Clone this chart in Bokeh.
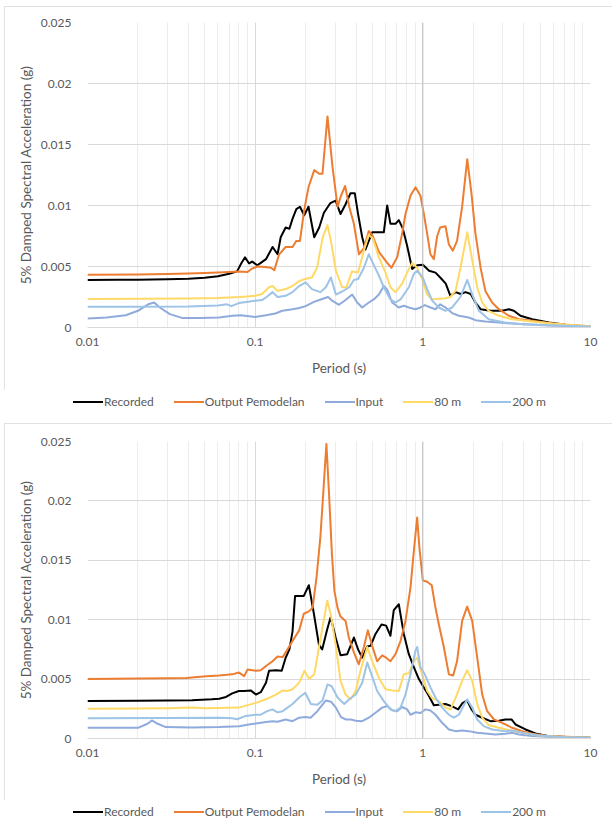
from bokeh.plotting import figure
from bokeh.models import Range1d, FixedTicker, CustomJSTickFormatter, Span, Div
from bokeh.layouts import column
from bokeh.embed import file_html
from bokeh.resources import INLINE

# ---------------------------------------------------------------------------
# 5% damped response spectra: period (s) vs spectral acceleration (g)
# ---------------------------------------------------------------------------
SERIES_NAMES = ["Recorded", "Output Pemodelan", "Input", "80 m", "200 m"]
SERIES_COLORS = ["#000000", "#ED7D31", "#8FAADC", "#FFD966", "#9DC3E6"]

X_TICKS = [0.01, 0.1, 1, 10]
X_TICK_LABELS = ["0.01", "0.1", "1", "10"]
Y_TICKS = [0, 0.005, 0.01, 0.015, 0.02, 0.025]
Y_TICK_LABELS = ["0", "0.005", "0.01", "0.015", "0.02", "0.025"]

# ---- upper chart ----
top_recorded_period = [0.010, 0.015, 0.020, 0.030, 0.040, 0.050, 0.060, 0.070, 0.078, 0.083,
                       0.087, 0.092, 0.096, 0.103, 0.108, 0.116, 0.127, 0.136, 0.142, 0.152,
                       0.160, 0.167, 0.176, 0.185, 0.196, 0.208, 0.225, 0.241, 0.257, 0.281,
                       0.302, 0.323, 0.346, 0.370, 0.393, 0.411, 0.435, 0.455, 0.476, 0.499,
                       0.559, 0.585, 0.613, 0.641, 0.687, 0.719, 0.760, 0.806, 0.864, 0.925,
                       1.00, 1.09, 1.19, 1.27, 1.37, 1.46, 1.57, 1.68, 1.80, 1.93,
                       2.06, 2.21, 2.53, 2.97, 3.26, 3.49, 3.82, 4.49, 5.65, 7.10,
                       8.92, 10.0]
top_recorded_sa = [0.00390, 0.00391, 0.00392, 0.00395, 0.00400, 0.00408, 0.00420, 0.00440, 0.00460, 0.00530,
                   0.00575, 0.00525, 0.00540, 0.00510, 0.00530, 0.00560, 0.00660, 0.00600, 0.00740, 0.00820,
                   0.00810, 0.00890, 0.00970, 0.00990, 0.00920, 0.00990, 0.00740, 0.00820, 0.00940, 0.01020,
                   0.01040, 0.00930, 0.01010, 0.01100, 0.01100, 0.00930, 0.00740, 0.00640, 0.00710, 0.00780,
                   0.00780, 0.00780, 0.01000, 0.00850, 0.00850, 0.00880, 0.00810, 0.00670, 0.00480, 0.00510,
                   0.00515, 0.00465, 0.00450, 0.00410, 0.00360, 0.00260, 0.00290, 0.00275, 0.00290, 0.00275,
                   0.00205, 0.00150, 0.00137, 0.00137, 0.00150, 0.00137, 0.00096, 0.00068, 0.00041, 0.00022,
                   0.00011, 0.00008]

top_output_period = [0.010, 0.020, 0.030, 0.040, 0.050, 0.060, 0.070, 0.080, 0.090, 0.095,
                     0.103, 0.115, 0.124, 0.130, 0.139, 0.152, 0.167, 0.176, 0.185, 0.196,
                     0.208, 0.225, 0.241, 0.252, 0.270, 0.289, 0.310, 0.325, 0.344, 0.364,
                     0.388, 0.416, 0.445, 0.476, 0.499, 0.547, 0.613, 0.650, 0.703, 0.753,
                     0.788, 0.844, 0.904, 0.968, 1.014, 1.061, 1.11, 1.163, 1.218, 1.27,
                     1.365, 1.43, 1.51, 1.60, 1.716, 1.84, 1.95, 2.06, 2.21, 2.36,
                     2.59, 2.84, 3.26, 3.74, 4.49, 5.65, 7.10, 10.0]
top_output_sa = [0.00433, 0.00435, 0.00438, 0.00442, 0.00446, 0.00450, 0.00455, 0.00460, 0.00455, 0.00480,
                 0.00500, 0.00495, 0.00490, 0.00470, 0.00600, 0.00660, 0.00660, 0.00710, 0.00710, 0.00960,
                 0.01150, 0.01290, 0.01260, 0.01260, 0.01730, 0.01320, 0.00990, 0.01080, 0.01160, 0.00990,
                 0.00850, 0.00600, 0.00650, 0.00790, 0.00760, 0.00620, 0.00530, 0.00490, 0.00575, 0.00770,
                 0.00930, 0.01080, 0.01150, 0.01080, 0.00930, 0.00770, 0.00600, 0.00560, 0.00750, 0.00820,
                 0.00830, 0.00680, 0.00630, 0.00710, 0.00990, 0.01380, 0.01100, 0.00770, 0.00490, 0.00300,
                 0.00205, 0.00150, 0.00096, 0.00068, 0.00055, 0.00036, 0.00022, 0.00011]

top_input_period = [0.010, 0.013, 0.0169, 0.020, 0.023, 0.025, 0.027, 0.031, 0.037, 0.047,
                    0.061, 0.073, 0.082, 0.092, 0.100, 0.116, 0.132, 0.145, 0.167, 0.183,
                    0.200, 0.224, 0.246, 0.272, 0.288, 0.316, 0.346, 0.379, 0.406, 0.435,
                    0.476, 0.510, 0.547, 0.585, 0.613, 0.656, 0.719, 0.770, 0.825, 0.904,
                    0.968, 1.028, 1.11, 1.19, 1.27, 1.365, 1.496, 1.64, 1.88, 2.06,
                    2.36, 2.84, 3.57, 5.65, 10.0]
top_input_sa = [0.00074, 0.00082, 0.00100, 0.00137, 0.00190, 0.00205, 0.00164, 0.00110, 0.00077, 0.00077,
                0.00082, 0.00096, 0.00100, 0.00093, 0.00087, 0.00100, 0.00115, 0.00137, 0.00150, 0.00160,
                0.00175, 0.00210, 0.00230, 0.00250, 0.00220, 0.00186, 0.00225, 0.00270, 0.00205, 0.00164,
                0.00205, 0.00230, 0.00270, 0.00340, 0.00310, 0.00205, 0.00164, 0.00178, 0.00164, 0.00150,
                0.00164, 0.00184, 0.00164, 0.00150, 0.00190, 0.00164, 0.00118, 0.00096, 0.00082, 0.00060,
                0.00050, 0.00040, 0.00030, 0.00016, 0.00008]

top_80m_period = [0.010, 0.020, 0.040, 0.060, 0.080, 0.090, 0.100, 0.110, 0.121, 0.127,
                  0.136, 0.152, 0.167, 0.183, 0.200, 0.218, 0.234, 0.253, 0.270, 0.283,
                  0.303, 0.330, 0.350, 0.378, 0.411, 0.445, 0.476, 0.503, 0.547, 0.599,
                  0.641, 0.687, 0.753, 0.806, 0.864, 0.925, 1.00, 1.061, 1.137, 1.246,
                  1.365, 1.46, 1.566, 1.677, 1.84, 1.97, 2.11, 2.26, 2.47, 2.84,
                  3.41, 4.49, 5.90, 10.0]
top_80m_sa = [0.00233, 0.00235, 0.00238, 0.00242, 0.00250, 0.00255, 0.00260, 0.00275, 0.00330, 0.00340,
              0.00300, 0.00315, 0.00340, 0.00380, 0.00400, 0.00410, 0.00490, 0.00740, 0.00840, 0.00710,
              0.00465, 0.00330, 0.00330, 0.00460, 0.00450, 0.00630, 0.00760, 0.00730, 0.00575, 0.00450,
              0.00330, 0.00290, 0.00360, 0.00450, 0.00530, 0.00490, 0.00380, 0.00270, 0.00230, 0.00235,
              0.00240, 0.00250, 0.00300, 0.00490, 0.00780, 0.00550, 0.00330, 0.00205, 0.00137, 0.00096,
              0.00068, 0.00050, 0.00033, 0.00011]

top_200m_period = [0.010, 0.020, 0.040, 0.060, 0.068, 0.072, 0.080, 0.100, 0.110, 0.117,
                   0.127, 0.136, 0.152, 0.167, 0.183, 0.200, 0.218, 0.245, 0.264, 0.283,
                   0.303, 0.330, 0.364, 0.388, 0.411, 0.445, 0.476, 0.503, 0.547, 0.585,
                   0.641, 0.687, 0.736, 0.825, 0.884, 0.925, 1.00, 1.061, 1.137, 1.246,
                   1.365, 1.496, 1.677, 1.84, 1.97, 2.16, 2.47, 3.08, 3.94, 5.90,
                   10.0]
top_200m_sa = [0.00170, 0.00171, 0.00173, 0.00180, 0.00190, 0.00175, 0.00200, 0.00220, 0.00225, 0.00250,
               0.00290, 0.00250, 0.00260, 0.00290, 0.00340, 0.00370, 0.00315, 0.00290, 0.00330, 0.00410,
               0.00270, 0.00295, 0.00330, 0.00390, 0.00397, 0.00490, 0.00600, 0.00530, 0.00425, 0.00330,
               0.00230, 0.00205, 0.00230, 0.00330, 0.00440, 0.00465, 0.00410, 0.00315, 0.00220, 0.00164,
               0.00137, 0.00164, 0.00250, 0.00390, 0.00270, 0.00137, 0.00068, 0.00041, 0.00027, 0.00019,
               0.00008]

# ---- lower chart ----
bot_recorded_period = [0.010, 0.020, 0.030, 0.042, 0.055, 0.061, 0.067, 0.073, 0.080, 0.086,
                       0.094, 0.101, 0.108, 0.116, 0.121, 0.133, 0.144, 0.152, 0.160, 0.167,
                       0.173, 0.182, 0.195, 0.209, 0.224, 0.240, 0.251, 0.269, 0.282, 0.302,
                       0.323, 0.354, 0.388, 0.411, 0.435, 0.466, 0.488, 0.522, 0.567, 0.604,
                       0.641, 0.671, 0.719, 0.770, 0.825, 0.884, 0.947, 1.014, 1.086, 1.163,
                       1.246, 1.365, 1.496, 1.624, 1.716, 1.838, 1.951, 2.06, 2.26, 2.53,
                       2.84, 3.11, 3.38, 3.57, 4.10, 4.70, 5.65, 7.10, 10.0]
bot_recorded_sa = [0.00315, 0.00317, 0.00320, 0.00322, 0.00330, 0.00335, 0.00350, 0.00380, 0.00400, 0.00400,
                   0.00405, 0.00370, 0.00390, 0.00470, 0.00570, 0.00575, 0.00570, 0.00680, 0.00750, 0.00900,
                   0.01200, 0.01200, 0.01200, 0.01290, 0.01050, 0.00790, 0.00750, 0.00920, 0.01020, 0.00850,
                   0.00700, 0.00710, 0.00850, 0.00750, 0.00680, 0.00775, 0.00780, 0.00880, 0.00960, 0.00950,
                   0.00865, 0.01080, 0.01130, 0.00880, 0.00710, 0.00600, 0.00500, 0.00430, 0.00360, 0.00280,
                   0.00285, 0.00290, 0.00270, 0.00245, 0.00295, 0.00320, 0.00245, 0.00200, 0.00175, 0.00146,
                   0.00150, 0.00160, 0.00160, 0.00118, 0.00076, 0.00042, 0.00020, 0.00012, 0.00006]

bot_output_period = [0.010, 0.020, 0.030, 0.039, 0.051, 0.061, 0.073, 0.080, 0.086, 0.090,
                     0.101, 0.108, 0.116, 0.127, 0.136, 0.146, 0.156, 0.167, 0.183, 0.195,
                     0.209, 0.220, 0.232, 0.245, 0.257, 0.266, 0.276, 0.287, 0.297, 0.310,
                     0.322, 0.346, 0.362, 0.388, 0.415, 0.445, 0.470, 0.499, 0.534, 0.572,
                     0.604, 0.641, 0.687, 0.736, 0.788, 0.844, 0.884, 0.925, 0.955, 1.00,
                     1.061, 1.13, 1.19, 1.246, 1.334, 1.43, 1.517, 1.60, 1.716, 1.838,
                     1.97, 2.11, 2.26, 2.42, 2.66, 2.97, 3.41, 3.91, 4.49, 5.65,
                     10.0]
bot_output_sa = [0.00500, 0.00505, 0.00508, 0.00510, 0.00525, 0.00530, 0.00540, 0.00555, 0.00525, 0.00580,
                 0.00570, 0.00575, 0.00610, 0.00650, 0.00690, 0.00685, 0.00750, 0.00820, 0.00910, 0.01050,
                 0.01070, 0.01100, 0.01350, 0.01700, 0.02150, 0.02480, 0.02050, 0.01550, 0.01240, 0.01100,
                 0.01030, 0.00990, 0.00850, 0.00725, 0.00625, 0.00770, 0.00910, 0.00780, 0.00650, 0.00700,
                 0.00680, 0.00650, 0.00710, 0.00820, 0.00990, 0.01270, 0.01580, 0.01860, 0.01600, 0.01330,
                 0.01320, 0.01290, 0.01100, 0.00960, 0.00770, 0.00540, 0.00530, 0.00650, 0.00990, 0.01110,
                 0.00990, 0.00680, 0.00370, 0.00230, 0.00160, 0.00132, 0.00090, 0.00062, 0.00040, 0.00020,
                 0.00006]

bot_input_period = [0.010, 0.020, 0.0228, 0.0242, 0.0262, 0.0293, 0.042, 0.061, 0.080, 0.092,
                    0.101, 0.116, 0.127, 0.136, 0.152, 0.167, 0.183, 0.200, 0.214, 0.235,
                    0.264, 0.283, 0.303, 0.325, 0.348, 0.372, 0.398, 0.435, 0.476, 0.522,
                    0.572, 0.613, 0.656, 0.703, 0.753, 0.806, 0.844, 0.904, 0.968, 1.037,
                    1.11, 1.19, 1.304, 1.43, 1.566, 1.716, 1.88, 2.11, 2.36, 2.71,
                    3.11, 3.41, 3.74, 4.49, 6.45, 10.0]
bot_input_sa = [0.00090, 0.00090, 0.00124, 0.00152, 0.00124, 0.00096, 0.00093, 0.00096, 0.00104, 0.00118,
                0.00127, 0.00138, 0.00146, 0.00141, 0.00160, 0.00146, 0.00175, 0.00180, 0.00175, 0.00230,
                0.00320, 0.00310, 0.00260, 0.00180, 0.00160, 0.00160, 0.00150, 0.00146, 0.00175, 0.00217,
                0.00260, 0.00273, 0.00237, 0.00230, 0.00265, 0.00245, 0.00200, 0.00220, 0.00215, 0.00245,
                0.00235, 0.00200, 0.00132, 0.00076, 0.00062, 0.00068, 0.00062, 0.00048, 0.00042, 0.00034,
                0.00040, 0.00048, 0.00034, 0.00020, 0.00011, 0.00006]

bot_80m_period = [0.010, 0.020, 0.030, 0.042, 0.051, 0.080, 0.101, 0.116, 0.133, 0.146,
                  0.156, 0.167, 0.183, 0.197, 0.210, 0.225, 0.235, 0.251, 0.269, 0.282,
                  0.302, 0.323, 0.346, 0.371, 0.397, 0.425, 0.466, 0.499, 0.547, 0.599,
                  0.656, 0.719, 0.770, 0.825, 0.884, 0.925, 0.990, 1.061, 1.137, 1.246,
                  1.365, 1.46, 1.566, 1.716, 1.838, 1.97, 2.11, 2.26, 2.47, 2.84,
                  3.33, 3.91, 4.92, 7.10, 10.0]
bot_80m_sa = [0.00250, 0.00252, 0.00255, 0.00260, 0.00255, 0.00260, 0.00300, 0.00330, 0.00370, 0.00405,
              0.00400, 0.00415, 0.00470, 0.00570, 0.00500, 0.00540, 0.00690, 0.00920, 0.01160, 0.01050,
              0.00790, 0.00485, 0.00370, 0.00330, 0.00400, 0.00570, 0.00770, 0.00650, 0.00510, 0.00415,
              0.00405, 0.00400, 0.00540, 0.00550, 0.00650, 0.00680, 0.00540, 0.00400, 0.00340, 0.00315,
              0.00260, 0.00245, 0.00340, 0.00485, 0.00575, 0.00485, 0.00290, 0.00175, 0.00113, 0.00090,
              0.00068, 0.00048, 0.00025, 0.00011, 0.00006]

bot_200m_period = [0.010, 0.030, 0.061, 0.073, 0.078, 0.088, 0.101, 0.108, 0.118, 0.127,
                   0.136, 0.146, 0.167, 0.183, 0.199, 0.215, 0.235, 0.252, 0.270, 0.286,
                   0.310, 0.340, 0.364, 0.398, 0.435, 0.466, 0.494, 0.534, 0.585, 0.641,
                   0.687, 0.736, 0.788, 0.844, 0.904, 0.925, 0.968, 1.028, 1.11, 1.19,
                   1.304, 1.43, 1.53, 1.64, 1.757, 1.838, 1.97, 2.11, 2.31, 2.59,
                   3.11, 3.41, 3.91, 4.92, 7.10, 10.0]
bot_200m_sa = [0.00170, 0.00172, 0.00175, 0.00170, 0.00162, 0.00190, 0.00200, 0.00200, 0.00230, 0.00245,
               0.00220, 0.00230, 0.00290, 0.00345, 0.00385, 0.00290, 0.00285, 0.00320, 0.00455, 0.00440,
               0.00345, 0.00290, 0.00330, 0.00370, 0.00470, 0.00640, 0.00540, 0.00400, 0.00315, 0.00245,
               0.00230, 0.00260, 0.00370, 0.00540, 0.00740, 0.00770, 0.00600, 0.00540, 0.00430, 0.00345,
               0.00260, 0.00200, 0.00175, 0.00200, 0.00280, 0.00330, 0.00260, 0.00160, 0.00104, 0.00076,
               0.00062, 0.00068, 0.00048, 0.00025, 0.00011, 0.00006]

# ---------------------------------------------------------------------------
FONT = "Lato"
TEXT_GRAY = "#595959"
GRID_GRAY = "#d9d9d9"
MINOR_GRAY = "#ececec"
PANEL_WIDTH = 608


def make_chart(curves, frame_height, border_top, border_bottom):
    p = figure(x_axis_type="log",
               x_range=Range1d(0.01, 10), y_range=Range1d(0, 0.025),
               frame_width=503, frame_height=frame_height,
               min_border_left=83, min_border_right=22,
               min_border_top=border_top, min_border_bottom=border_bottom,
               output_backend="svg", toolbar_location=None)
    p.outline_line_color = None
    p.background_fill_color = "white"
    p.border_fill_color = "white"

    minor = [k * 10.0 ** e for e in (-2, -1, 0) for k in range(2, 10)]
    x_ticker = FixedTicker(ticks=X_TICKS, minor_ticks=minor)
    y_ticker = FixedTicker(ticks=Y_TICKS)
    x_labels = dict(zip([str(t) for t in X_TICKS], X_TICK_LABELS))
    y_labels = dict(zip([str(t) for t in Y_TICKS], Y_TICK_LABELS))

    p.xaxis.ticker = x_ticker
    p.xgrid.ticker = x_ticker
    p.yaxis.ticker = y_ticker
    p.ygrid.ticker = y_ticker
    p.xaxis.formatter = CustomJSTickFormatter(args=dict(labels=x_labels),
                                              code="const k = String(tick); return labels[k] ?? k;")
    p.yaxis.formatter = CustomJSTickFormatter(args=dict(labels=y_labels),
                                              code="const k = String(tick); return labels[k] ?? k;")

    p.xgrid.grid_line_color = GRID_GRAY
    p.xgrid.minor_grid_line_color = MINOR_GRAY
    p.ygrid.grid_line_color = GRID_GRAY

    for ax in (p.xaxis, p.yaxis):
        ax.major_tick_line_color = None
        ax.minor_tick_line_color = None
        ax.major_label_text_font = FONT
        ax.major_label_text_font_size = "12px"
        ax.major_label_text_color = TEXT_GRAY
        ax.axis_label_text_font = FONT
        ax.axis_label_text_font_size = "13.5px"
        ax.axis_label_text_font_style = "normal"
        ax.axis_label_text_color = TEXT_GRAY

    p.xaxis.axis_line_color = GRID_GRAY
    p.yaxis.axis_line_color = None
    p.xaxis.major_label_standoff = 4
    p.xaxis.axis_label_standoff = 11
    p.yaxis.major_label_standoff = 10
    p.yaxis.axis_label_standoff = 4
    p.xaxis.axis_label = "Period (s)"
    p.yaxis.axis_label = "5% Damped Spectral Acceleration (g)"

    # vertical axis line crossing at T = 1 s
    p.add_layout(Span(location=1, dimension="height", line_color="#bfbfbf", line_width=1))

    for color, (period, sa) in zip(SERIES_COLORS, curves):
        p.line(period, sa, line_color=color, line_width=2, line_join="round")
    return p


def make_key(height):
    """Horizontal series key shown under each chart."""
    entries = []
    for i, (name, color) in enumerate(zip(SERIES_NAMES, SERIES_COLORS)):
        gap = "0" if i == len(SERIES_NAMES) - 1 else "20px"
        entries.append(
            f'<span style="display:inline-flex;align-items:center;margin-right:{gap};">'
            f'<span style="display:inline-block;width:30px;height:2px;background:{color};'
            f'margin-right:1px;"></span>'
            f'<span>{name}</span></span>')
    html = (f'<div style="display:flex;align-items:center;height:16px;line-height:16px;'
            f'padding:7px 0 0 69px;font-family:{FONT};font-size:12px;color:{TEXT_GRAY};'
            f'white-space:nowrap;">' + "".join(entries) + "</div>")
    return Div(text=html, width=PANEL_WIDTH, height=height, margin=0,
               styles={"background-color": "white"})


PANEL_STYLE = {"outline": "1px solid #d9d9d9", "outline-offset": "-1px"}

top_chart = make_chart([(top_recorded_period, top_recorded_sa),
                        (top_output_period, top_output_sa),
                        (top_input_period, top_input_sa),
                        (top_80m_period, top_80m_sa),
                        (top_200m_period, top_200m_sa)],
                       frame_height=305, border_top=16, border_bottom=63)
top_panel = column(top_chart, make_key(33), spacing=0, styles=PANEL_STYLE)

bottom_chart = make_chart([(bot_recorded_period, bot_recorded_sa),
                           (bot_output_period, bot_output_sa),
                           (bot_input_period, bot_input_sa),
                           (bot_80m_period, bot_80m_sa),
                           (bot_200m_period, bot_200m_sa)],
                          frame_height=297, border_top=18, border_bottom=62)
bottom_panel = column(bottom_chart, make_key(36), spacing=0, styles=PANEL_STYLE)

layout = column(top_panel, bottom_panel, spacing=0, margin=(6, 0, 0, 4))

with open("out.html", "w") as f:
    f.write(file_html(layout, INLINE))
